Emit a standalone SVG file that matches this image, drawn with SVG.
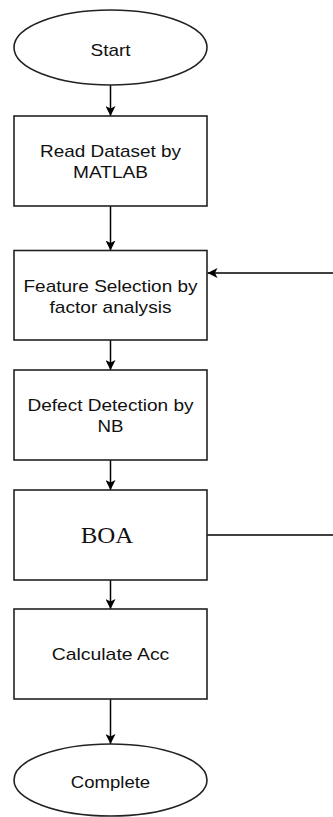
<svg xmlns="http://www.w3.org/2000/svg" width="333" height="817" viewBox="0 0 333 817">
<defs>
<marker id="ah" viewBox="0 0 10 10" refX="10" refY="5" markerWidth="10" markerHeight="10" markerUnits="userSpaceOnUse" orient="auto">
<path d="M0,0 L10,5 L0,10 L2.5,5 Z" fill="#000"/>
</marker>
<style>
.shape{fill:#fff;stroke:#222;stroke-width:1.6}
.t{font-family:"Liberation Sans",Arial,sans-serif;font-size:17px;fill:#111;text-anchor:middle}
.s{font-family:"Liberation Serif","Times New Roman",serif;font-size:24px;fill:#111;text-anchor:middle}
.c{fill:none;stroke:#000;stroke-width:1.5}
</style>
</defs>
<rect width="333" height="817" fill="#fff"/>
<g id="connectors">
<line class="c" x1="110.5" y1="85" x2="110.5" y2="116" marker-end="url(#ah)"/>
<line class="c" x1="110.5" y1="206" x2="110.5" y2="250.5" marker-end="url(#ah)"/>
<line class="c" x1="110.5" y1="340" x2="110.5" y2="370" marker-end="url(#ah)"/>
<line class="c" x1="110.5" y1="460" x2="110.5" y2="490" marker-end="url(#ah)"/>
<line class="c" x1="110.5" y1="580" x2="110.5" y2="609" marker-end="url(#ah)"/>
<line class="c" x1="110.5" y1="699" x2="110.5" y2="744" marker-end="url(#ah)"/>
<line class="c" x1="207" y1="535" x2="333" y2="535"/>
<line class="c" x1="333" y1="273" x2="207.5" y2="273" marker-end="url(#ah)"/>
</g>
<g id="start">
<ellipse class="shape" cx="110.5" cy="47.5" rx="96.5" ry="37.5"/>
<text class="t" x="110.5" y="56" textLength="40" lengthAdjust="spacingAndGlyphs">Start</text>
</g>
<g id="read">
<rect class="shape" x="14" y="116" width="193" height="90"/>
<text class="t" x="110.5" y="157" textLength="141" lengthAdjust="spacingAndGlyphs">Read Dataset by</text>
<text class="t" x="110.5" y="178" textLength="75" lengthAdjust="spacingAndGlyphs">MATLAB</text>
</g>
<g id="feature">
<rect class="shape" x="14" y="250.5" width="193" height="89.5"/>
<text class="t" x="110.5" y="292" textLength="174" lengthAdjust="spacingAndGlyphs">Feature Selection by</text>
<text class="t" x="110.5" y="313" textLength="122" lengthAdjust="spacingAndGlyphs">factor analysis</text>
</g>
<g id="defect">
<rect class="shape" x="14" y="370" width="193" height="90"/>
<text class="t" x="110.5" y="411" textLength="166" lengthAdjust="spacingAndGlyphs">Defect Detection by</text>
<text class="t" x="110.5" y="432" textLength="26" lengthAdjust="spacingAndGlyphs">NB</text>
</g>
<g id="boa">
<rect class="shape" x="14" y="490" width="193" height="90"/>
<text class="s" x="107" y="543" textLength="52.6" lengthAdjust="spacingAndGlyphs">BOA</text>
</g>
<g id="calc">
<rect class="shape" x="14" y="609" width="193" height="90"/>
<text class="t" x="110.5" y="660" textLength="117.7" lengthAdjust="spacingAndGlyphs">Calculate Acc</text>
</g>
<g id="complete">
<ellipse class="shape" cx="110.5" cy="780" rx="96.5" ry="36"/>
<text class="t" x="110.5" y="788" textLength="79.3" lengthAdjust="spacingAndGlyphs">Complete</text>
</g>
</svg>
